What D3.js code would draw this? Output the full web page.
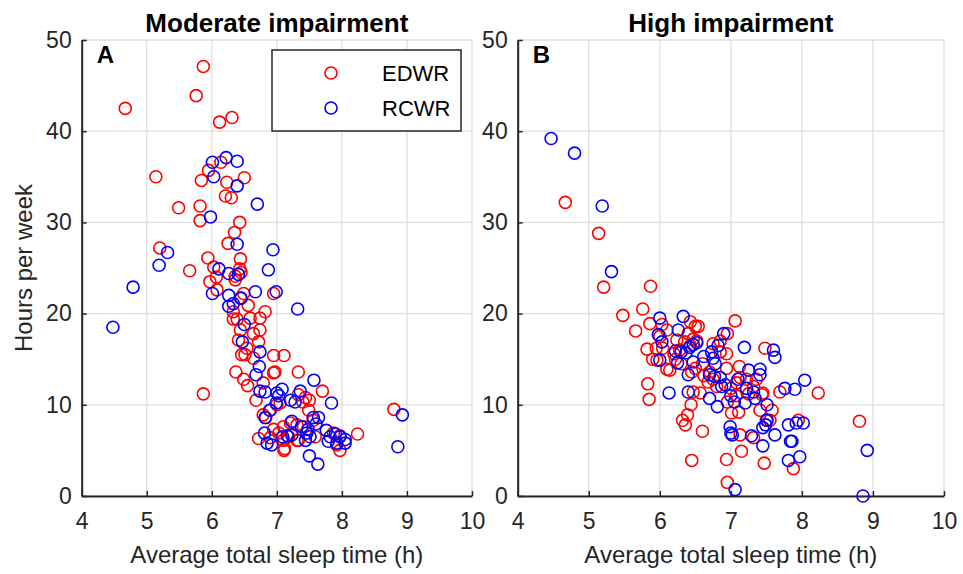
<!DOCTYPE html>
<html>
<head>
<meta charset="utf-8">
<script src="https://cdn.jsdelivr.net/npm/d3@7"></script>
<style>
  body { margin: 0; background: #fff; }
  text { font-family: "Liberation Sans", Arial, Helvetica, sans-serif; }
</style>
</head>
<body>
<svg id="chart" width="963" height="574"></svg>
<script>
var xTicks = [4, 5, 6, 7, 8, 9, 10];
var yTicks = [0, 10, 20, 30, 40, 50];

// Moderate impairment, [sleep h, hours per week]
var modEDWR = [[4.67,42.5],[5.87,47.1],[5.76,43.9],[6.12,41.0],[6.31,41.5],[5.14,35.0],[6.14,36.6],[5.95,35.7],[5.84,34.6],[6.23,34.4],[6.50,34.9],[6.21,32.9],[6.30,32.7],[5.49,31.6],[5.82,31.8],[5.82,30.2],[6.43,30.0],[6.35,28.9],[6.25,27.7],[5.20,27.2],[5.94,26.1],[6.44,26.0],[6.03,25.1],[5.66,24.7],[6.43,24.9],[6.36,24.1],[5.97,23.5],[6.07,24.0],[6.45,24.5],[6.08,22.6],[6.36,23.7],[6.49,22.2],[6.44,21.7],[6.56,20.9],[6.82,20.2],[6.95,22.2],[6.74,19.5],[6.59,19.5],[6.33,20.2],[6.33,19.4],[6.39,19.4],[6.74,18.2],[6.64,17.8],[6.44,18.2],[6.72,16.9],[6.41,17.1],[6.54,16.2],[6.46,15.5],[6.51,15.5],[6.64,15.1],[6.95,15.4],[7.11,15.4],[6.37,13.6],[6.95,13.5],[6.97,13.6],[7.33,13.6],[6.49,12.8],[6.55,12.1],[6.79,12.4],[5.87,11.2],[6.68,10.5],[7.70,11.5],[7.00,10.0],[7.05,10.2],[7.33,11.1],[7.44,10.8],[7.50,10.5],[7.49,9.4],[6.79,8.9],[6.90,9.4],[6.95,7.3],[7.10,7.6],[7.21,8.0],[7.31,7.8],[7.41,7.6],[7.11,5.0],[7.10,6.1],[6.72,6.3],[7.33,6.1],[7.59,6.5],[7.97,5.0],[7.92,5.6],[8.24,6.8],[8.80,9.5],[7.87,6.9],[7.97,6.6],[7.56,8.3],[7.18,6.5],[7.31,6.1],[7.12,5.2],[6.83,8.6],[7.40,10.3],[7.03,6.9],[6.90,6.4]];
var modRCWR = [[6.01,36.6],[6.22,37.1],[6.39,36.7],[6.03,35.0],[6.39,34.0],[6.70,32.0],[5.98,30.6],[6.39,27.6],[6.94,27.0],[5.32,26.7],[5.19,25.3],[6.11,24.9],[6.26,24.4],[6.41,24.3],[6.87,24.8],[4.79,22.9],[4.48,18.5],[6.01,22.2],[6.26,22.0],[6.45,21.7],[6.26,20.8],[6.33,21.1],[6.67,22.4],[6.99,22.4],[7.32,20.5],[6.50,18.8],[6.47,16.9],[6.74,15.8],[6.73,14.2],[6.68,13.3],[7.57,12.7],[6.74,11.5],[6.82,11.4],[7.00,11.3],[7.08,11.7],[6.99,10.2],[7.21,10.5],[7.28,10.3],[7.36,11.5],[7.84,10.2],[6.89,9.4],[6.82,8.6],[7.23,8.2],[7.38,7.6],[7.56,8.6],[7.64,8.6],[7.46,6.9],[7.51,6.5],[7.44,6.1],[7.76,7.2],[7.82,6.5],[7.90,6.8],[7.97,6.5],[8.05,6.2],[8.05,5.8],[7.79,6.0],[7.92,5.8],[6.81,6.9],[6.85,5.8],[6.92,5.6],[7.09,6.5],[7.16,6.6],[7.23,6.7],[7.50,4.4],[7.63,3.5],[8.93,8.9],[8.86,5.4],[7.03,11.0],[7.48,7.3],[7.60,7.9]];

// High impairment
var highEDWR = [[4.67,32.2],[5.14,28.8],[5.21,22.9],[5.87,23.0],[5.48,19.8],[5.76,20.5],[5.66,18.1],[5.86,18.9],[5.82,16.1],[5.95,16.2],[6.04,16.2],[5.96,14.9],[6.10,13.9],[6.14,13.8],[5.83,12.3],[5.85,10.6],[6.10,18.2],[6.03,18.8],[6.24,17.1],[6.43,19.1],[6.50,18.6],[6.54,18.6],[6.40,17.8],[6.47,17.2],[6.35,16.9],[6.52,17.0],[6.43,16.5],[6.20,15.6],[6.30,14.5],[6.22,15.0],[6.50,14.0],[6.60,14.5],[6.45,13.6],[6.75,16.7],[6.70,13.6],[6.68,12.5],[6.75,12.8],[6.85,15.8],[6.94,15.6],[6.94,14.0],[7.06,19.2],[7.12,14.2],[7.13,13.0],[7.22,12.8],[7.08,12.4],[7.48,16.2],[6.95,17.8],[6.85,17.0],[6.57,11.3],[6.47,11.4],[6.44,10.0],[6.39,8.9],[6.32,8.3],[6.36,7.8],[6.60,7.1],[6.95,10.3],[7.01,9.1],[7.11,9.2],[7.36,12.8],[7.32,12.0],[7.44,11.1],[7.45,11.3],[7.41,9.4],[7.58,9.4],[7.50,8.3],[7.55,8.3],[7.13,6.7],[7.32,6.4],[7.15,4.9],[6.94,4.0],[6.45,3.9],[7.47,3.6],[6.95,1.5],[7.88,3.0],[7.95,8.3],[7.69,11.4],[8.23,11.3],[8.81,8.2],[7.00,11.8],[7.07,11.0],[7.25,11.2],[6.80,12.0],[6.62,13.2],[6.28,16.0],[6.00,17.5],[5.90,15.0]];
var highRCWR = [[4.47,39.2],[4.80,37.6],[5.19,31.8],[5.32,24.6],[6.00,19.5],[6.33,19.7],[5.98,17.7],[6.03,16.9],[6.26,18.2],[6.22,15.9],[6.30,15.8],[6.37,15.7],[6.42,16.3],[6.47,16.6],[6.52,16.8],[6.00,14.9],[6.25,14.6],[6.47,14.7],[6.40,13.3],[6.13,11.3],[6.40,11.4],[6.73,15.8],[6.75,15.1],[6.78,14.5],[6.82,16.5],[6.90,17.8],[6.70,13.3],[6.77,13.1],[6.85,13.0],[6.70,10.7],[6.81,9.8],[6.92,12.2],[7.00,11.0],[7.05,10.3],[7.10,12.8],[7.20,10.2],[7.19,16.3],[7.25,13.8],[7.22,11.8],[7.32,11.4],[7.41,13.9],[7.41,13.3],[7.34,10.7],[7.51,10.0],[7.51,8.3],[7.49,7.8],[7.45,7.5],[7.45,5.5],[6.99,7.6],[7.00,6.9],[7.02,6.7],[7.29,6.6],[7.60,16.0],[7.62,15.2],[7.76,11.8],[7.90,11.7],[8.04,12.7],[7.81,7.8],[7.92,8.0],[8.02,8.0],[7.84,6.0],[7.86,6.0],[7.81,3.9],[7.97,4.3],[7.06,0.7],[7.62,6.7],[8.92,5.0],[8.86,0.0],[6.62,15.3],[6.87,12.0]];

var seriesNames = ["EDWR", "RCWR"];
var colors = ["#ff0000", "#0000ff"];

var svg = d3.select("#chart");
var top0 = 40, bottom0 = 496;
var axisColor = "#262626";

function drawPanel(left, right, title, letter, red, blue, withYLabel) {
  var x = d3.scaleLinear().domain([4, 10]).range([left, right]);
  var y = d3.scaleLinear().domain([0, 50]).range([bottom0, top0]);
  var g = svg.append("g");

  // grid
  g.selectAll(".vg").data(xTicks).enter().append("line")
    .attr("x1", d => x(d)).attr("x2", d => x(d))
    .attr("y1", y(0)).attr("y2", y(50))
    .attr("stroke", "#dedede").attr("stroke-width", 1.3);
  g.selectAll(".hg").data(yTicks).enter().append("line")
    .attr("x1", x(4)).attr("x2", x(10))
    .attr("y1", d => y(d)).attr("y2", d => y(d))
    .attr("stroke", "#dedede").attr("stroke-width", 1.3);

  // axes
  var xa = g.append("g")
    .attr("transform", "translate(0," + y(0) + ")")
    .call(d3.axisBottom(x).tickValues(xTicks).tickFormat(d3.format("d"))
      .tickSize(-5).tickSizeOuter(0).tickPadding(17));
  var ya = g.append("g")
    .attr("transform", "translate(" + x(4) + ",0)")
    .call(d3.axisLeft(y).tickValues(yTicks).tickFormat(d3.format("d"))
      .tickSize(-5).tickSizeOuter(0).tickPadding(10));
  [xa, ya].forEach(function(a) {
    a.select(".domain").attr("stroke", axisColor).attr("stroke-width", 2);
    a.selectAll(".tick line").attr("stroke", axisColor).attr("stroke-width", 1.5);
    a.selectAll(".tick text").attr("fill", "#262626").style("font-size", "23px");
  });

  // points
  [red, blue].forEach(function(data, i) {
    g.append("g").selectAll("circle").data(data).enter().append("circle")
      .attr("cx", d => x(d[0])).attr("cy", d => y(d[1])).attr("r", 6)
      .attr("fill", "none").attr("stroke", colors[i]).attr("stroke-width", 1.6);
  });

  // titles
  g.append("text").attr("x", (left + right) / 2).attr("y", 32)
    .attr("text-anchor", "middle").style("font-size", "26px").style("font-weight", "bold")
    .text(title);
  g.append("text").attr("x", x(4) + 15).attr("y", 63)
    .style("font-size", "24px").style("font-weight", "bold").text(letter);
  g.append("text").attr("x", (left + right) / 2).attr("y", 563)
    .attr("text-anchor", "middle").attr("fill", "#262626").style("font-size", "24px")
    .text("Average total sleep time (h)");
  if (withYLabel) {
    g.append("text").attr("transform", "translate(32," + ((top0 + bottom0) / 2) + ") rotate(-90)")
      .attr("text-anchor", "middle").attr("fill", "#262626").style("font-size", "24px")
      .text("Hours per week");
  }
  return g;
}

drawPanel(81.7, 472, "Moderate impairment", "A", modEDWR, modRCWR, true);
drawPanel(517.7, 944, "High impairment", "B", highEDWR, highRCWR, false);

// legend
var lg = svg.append("g");
lg.append("rect").attr("x", 272).attr("y", 50).attr("width", 189).attr("height", 81)
  .attr("fill", "#fff").attr("stroke", axisColor).attr("stroke-width", 1.5);
seriesNames.forEach(function(name, i) {
  lg.append("circle").attr("cx", 331).attr("cy", 73 + i * 35).attr("r", 6)
    .attr("fill", "none").attr("stroke", colors[i]).attr("stroke-width", 1.6);
  lg.append("text").attr("x", 382).attr("y", 81 + i * 35)
    .style("font-size", "22px").text(name);
});
</script>
</body>
</html>
